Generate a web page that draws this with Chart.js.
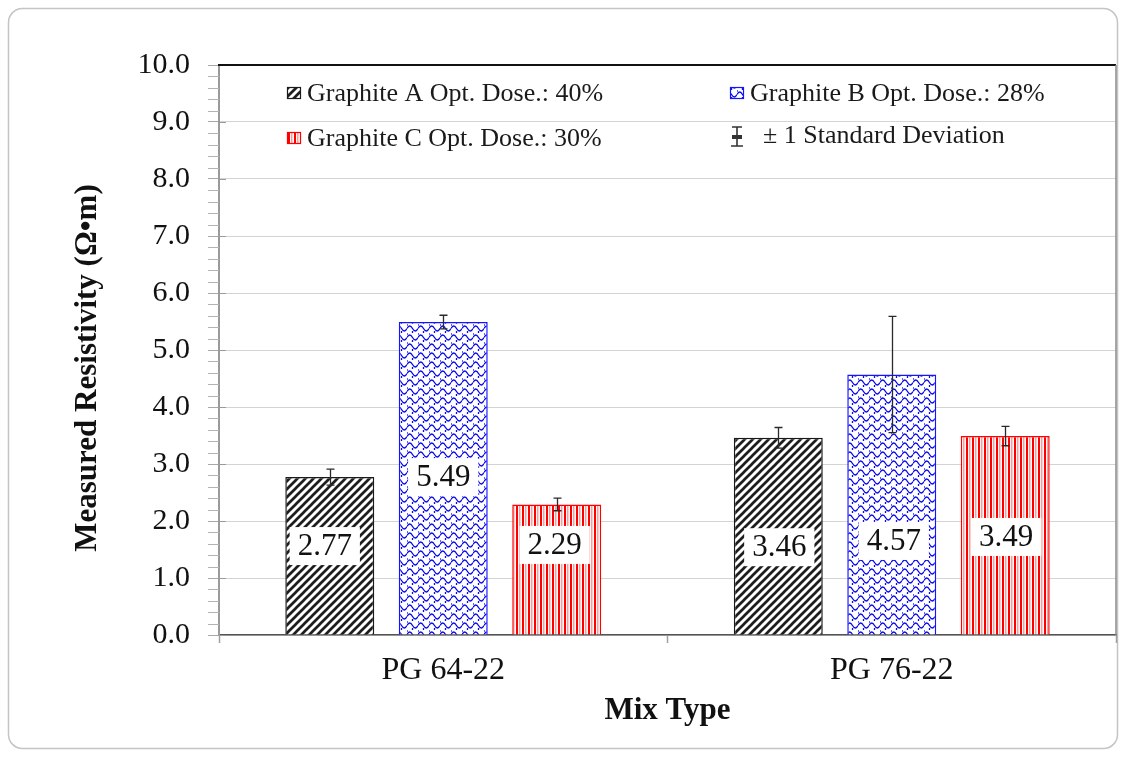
<!DOCTYPE html>
<html>
<head>
<meta charset="utf-8">
<title>Measured Resistivity by Mix Type</title>
<script src="https://cdn.jsdelivr.net/npm/chart.js@4.4.1/dist/chart.umd.min.js"></script>
<style>
  html, body { margin: 0; padding: 0; background: #ffffff; }
  canvas { display: block; }
</style>
</head>
<body>
<canvas id="chart" width="1126" height="757"></canvas>
<script>
// ---- data ----
const mixTypes = ['PG 64-22', 'PG 76-22'];
const seriesNames = ['Graphite A Opt. Dose.: 40%', 'Graphite B Opt. Dose.: 28%', 'Graphite C Opt. Dose.: 30%'];
const graphiteA = [2.77, 3.46];
const graphiteB = [5.49, 4.57];
const graphiteC = [2.29, 3.49];
const stdDevA = [0.14, 0.18];
const stdDevB = [0.12, 1.02];
const stdDevC = [0.11, 0.17];
const sdLegendText = '± 1 Standard Deviation';
const yAxisTitle = 'Measured Resistivity (Ω•m)';
const xAxisTitle = 'Mix Type';

const SERIF = 'Liberation Serif';

// ---- fill patterns ----
function makeTile(w, h, paint) {
  const t = document.createElement('canvas');
  t.width = w; t.height = h;
  const g = t.getContext('2d');
  g.fillStyle = '#ffffff';
  g.fillRect(0, 0, w, h);
  paint(g);
  return t;
}
const tileA = makeTile(8, 8, g => {
  g.strokeStyle = '#1e1e1e';
  g.lineWidth = 2.7;
  g.beginPath();
  for (let k = -8; k <= 8; k += 8) {
    g.moveTo(k - 2, 10); g.lineTo(k + 10, -2);
  }
  g.stroke();
});
const tileB = makeTile(11, 9, g => {
  g.strokeStyle = '#0a0aee';
  g.lineWidth = 1.3;
  g.beginPath();
  g.moveTo(0, 4.5); g.quadraticCurveTo(2.75, -0.5, 5.5, 4.5); g.quadraticCurveTo(8.25, 9.5, 11, 4.5);
  g.moveTo(0, 0); g.lineTo(0, 2);
  g.moveTo(5.5, 7); g.lineTo(5.5, 9);
  g.stroke();
});
const tileC = makeTile(6, 4, g => {
  g.fillStyle = '#ff0000';
  g.fillRect(0, 0, 2, 4);
  g.fillStyle = '#ff9a9a';
  g.fillRect(3, 0, 1.5, 4);
});
const ctx = document.getElementById('chart').getContext('2d');
const patA = ctx.createPattern(tileA, 'repeat');
const patB = ctx.createPattern(tileB, 'repeat');
const patC = ctx.createPattern(tileC, 'repeat');

// ---- plugins ----
const framePlugin = {
  id: 'frame',
  beforeDraw(chart) {
    const c = chart.ctx;
    c.save();
    c.fillStyle = '#ffffff';
    c.fillRect(0, 0, chart.width, chart.height);
    c.strokeStyle = '#c4c4c4';
    c.lineWidth = 1.5;
    c.beginPath();
    c.roundRect(8.5, 8.5, chart.width - 17, chart.height - 17, 14);
    c.stroke();
    c.restore();
  },
  afterDraw(chart) {
    const { left, right, top, bottom } = chart.chartArea;
    const c = chart.ctx;
    c.save();
    c.strokeStyle = '#111111';
    c.lineWidth = 2;
    c.beginPath();
    c.moveTo(left - 1, top); c.lineTo(right, top);
    c.stroke();
    c.strokeStyle = '#8a8a8a';
    c.lineWidth = 1.5;
    c.beginPath();
    c.moveTo(right, top); c.lineTo(right, bottom);
    c.stroke();
    c.restore();
  }
};

// vertical axis title, centred on the lower part of the value axis
const yTitlePlugin = {
  id: 'yTitle',
  afterDraw(chart, args, opts) {
    const c = chart.ctx;
    c.save();
    c.translate(opts.x, opts.y);
    c.rotate(-Math.PI / 2);
    c.font = 'bold 31px "' + SERIF + '"';
    c.fillStyle = '#111111';
    c.textAlign = 'center';
    c.textBaseline = 'middle';
    c.fillText(yAxisTitle, 0, 0);
    c.restore();
  }
};

const minorTicksPlugin = {
  id: 'minorTicks',
  afterDraw(chart) {
    const y = chart.scales.y;
    const left = chart.chartArea.left;
    const c = chart.ctx;
    c.save();
    c.strokeStyle = '#b4b4b4';
    c.lineWidth = 1;
    c.beginPath();
    for (let i = 0; i < 50; i++) {
      if (i % 5 === 0) continue;
      const py = Math.round(y.getPixelForValue(i / 5)) + 0.5;
      c.moveTo(left - 11, py); c.lineTo(left, py);
    }
    c.stroke();
    c.strokeStyle = '#9a9a9a';
    c.beginPath();
    for (let v = 0; v < 10; v++) {
      const py = Math.round(y.getPixelForValue(v)) + 0.5;
      c.moveTo(left, py); c.lineTo(left + 7, py);
    }
    c.stroke();
    c.restore();
  }
};

const errorBarPlugin = {
  id: 'errorBars',
  afterDatasetsDraw(chart) {
    const c = chart.ctx;
    const y = chart.scales.y;
    c.save();
    c.strokeStyle = '#2a2a2a';
    c.lineWidth = 1.3;
    chart.data.datasets.forEach((ds, di) => {
      const meta = chart.getDatasetMeta(di);
      meta.data.forEach((bar, i) => {
        const v = ds.data[i], sd = ds.stdDev[i];
        const x = Math.round(bar.x) + 0.5;
        const yTop = y.getPixelForValue(v + sd);
        const yBot = y.getPixelForValue(v - sd);
        c.beginPath();
        c.moveTo(x, yTop); c.lineTo(x, yBot);
        c.moveTo(x - 4, yTop); c.lineTo(x + 4, yTop);
        c.moveTo(x - 4, yBot); c.lineTo(x + 4, yBot);
        c.stroke();
      });
    });
    c.restore();
  }
};

const valueLabelPlugin = {
  id: 'valueLabels',
  afterDatasetsDraw(chart, args, opts) {
    const c = chart.ctx;
    const y = chart.scales.y;
    c.save();
    c.font = '31px "' + SERIF + '"';
    c.textAlign = 'center';
    c.textBaseline = 'middle';
    chart.data.datasets.forEach((ds, di) => {
      const meta = chart.getDatasetMeta(di);
      meta.data.forEach((bar, i) => {
        const text = ds.data[i].toFixed(2);
        const cx = bar.x + opts.shiftX[di][i];
        const cy = y.getPixelForValue(opts.anchors[di][i]);
        const w = c.measureText(text).width + 16;
        const h = 38;
        c.fillStyle = '#ffffff';
        c.fillRect(cx - w / 2, cy - h / 2, w, h);
        c.fillStyle = '#111111';
        c.fillText(text, cx, cy + 1);
      });
    });
    c.restore();
  }
};

const legendPlugin = {
  id: 'insideLegend',
  afterDraw(chart) {
    const { left, top } = chart.chartArea;
    const c = chart.ctx;
    const ds = chart.data.datasets;
    const items = [
      { d: ds[0], x: left + 68, y: top + 28 },
      { d: ds[1], x: left + 511, y: top + 28 },
      { d: ds[2], x: left + 68, y: top + 73 }
    ];
    c.save();
    c.font = '26px "' + SERIF + '"';
    c.textBaseline = 'middle';
    c.textAlign = 'left';
    items.forEach(it => {
      c.fillStyle = it.d.backgroundColor;
      c.fillRect(it.x, it.y - 6, 14, 12);
      c.strokeStyle = it.d.borderColor;
      c.lineWidth = 1.2;
      c.strokeRect(it.x + 0.5, it.y - 5.5, 13, 11);
      c.fillStyle = '#1a1a1a';
      c.fillText(it.d.label, it.x + 20, it.y + 1);
    });
    // standard deviation key
    const sx = left + 518, sy = top + 71;
    c.strokeStyle = '#333333';
    c.lineWidth = 1.6;
    c.beginPath();
    c.moveTo(sx, sy - 9); c.lineTo(sx, sy + 10);
    c.moveTo(sx - 5, sy - 9); c.lineTo(sx + 5, sy - 9);
    c.moveTo(sx - 6, sy + 10); c.lineTo(sx + 6, sy + 10);
    c.stroke();
    c.lineWidth = 4;
    c.beginPath();
    c.moveTo(sx - 5, sy + 1); c.lineTo(sx + 5, sy + 1);
    c.stroke();
    c.fillStyle = '#1a1a1a';
    c.fillText(sdLegendText, sx + 26, sy);
    c.restore();
  }
};

// ---- chart ----
new Chart(ctx, {
  type: 'bar',
  data: {
    labels: mixTypes,
    datasets: [
      { label: seriesNames[0], data: graphiteA, stdDev: stdDevA, backgroundColor: patA, borderColor: '#1a1a1a', borderWidth: 1.5 },
      { label: seriesNames[1], data: graphiteB, stdDev: stdDevB, backgroundColor: patB, borderColor: '#1414ff', borderWidth: 1.5 },
      { label: seriesNames[2], data: graphiteC, stdDev: stdDevC, backgroundColor: patC, borderColor: '#ff0000', borderWidth: 1.5 }
    ]
  },
  options: {
    responsive: false,
    animation: false,
    layout: { padding: { left: 50, top: 65, right: 10, bottom: 0 } },
    datasets: { bar: { categoryPercentage: 0.759, barPercentage: 0.784 } },
    plugins: {
      legend: { display: false },
      tooltip: { enabled: false },
      yTitle: { x: 88, y: 368 },
      valueLabels: {
        anchors: [[1.56, 1.54], [2.77, 1.65], [1.58, 1.72]],
        shiftX: [[-5, 1], [0, 2], [-2, 1]]
      }
    },
    scales: {
      x: {
        grid: { offset: true, drawOnChartArea: false, tickLength: 8, color: '#a0a0a0', tickWidth: 1.5 },
        border: { color: '#555555', width: 1.5 },
        ticks: { font: { family: SERIF, size: 32 }, color: '#111111', padding: 8 },
        title: {
          display: true, text: xAxisTitle, color: '#111111',
          font: { family: SERIF, size: 31, weight: 'bold' },
          padding: { top: 0, bottom: 27 }
        },
        afterFit(scale) { scale.height = 122; }
      },
      y: {
        min: 0, max: 10,
        ticks: {
          stepSize: 1,
          callback: v => Number(v).toFixed(1),
          font: { family: SERIF, size: 30 },
          color: '#111111',
          padding: 18
        },
        grid: { color: '#d4d4d4', tickColor: '#a8a8a8', tickLength: 11 },
        border: { color: '#9a9a9a', width: 2 },
        afterFit(scale) { scale.width = 169; }
      }
    }
  },
  plugins: [framePlugin, yTitlePlugin, minorTicksPlugin, errorBarPlugin, valueLabelPlugin, legendPlugin]
});
</script>
</body>
</html>
